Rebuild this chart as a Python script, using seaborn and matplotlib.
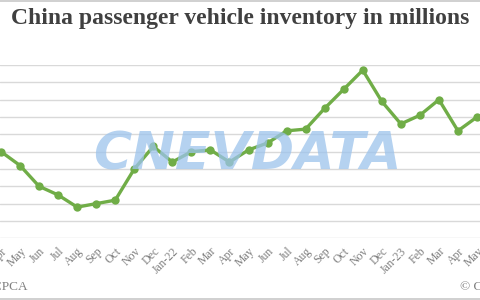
import matplotlib
matplotlib.use("Agg")
import matplotlib.pyplot as plt
import matplotlib.lines as mlines
import pandas as pd
import seaborn as sns

# Monthly inventory, Apr-21 .. May-23 (millions)
months = ["Apr", "May", "Jun", "Jul", "Aug", "Sep", "Oct", "Nov", "Dec",
          "Jan-22", "Feb", "Mar", "Apr", "May", "Jun", "Jul", "Aug", "Sep",
          "Oct", "Nov", "Dec", "Jan-23", "Feb", "Mar", "Apr", "May"]
inventory = [3.00, 2.92, 2.80, 2.75, 2.68, 2.70, 2.72, 2.90, 3.03,
             2.94, 3.00, 3.01, 2.94, 3.01, 3.05, 3.12, 3.13, 3.25,
             3.36, 3.47, 3.29, 3.16, 3.21, 3.30, 3.12, 3.20]
grid_values = [2.5, 2.6, 2.7, 2.8, 2.9, 3.0, 3.1, 3.2, 3.3, 3.4, 3.5]

df = pd.DataFrame({"idx": range(len(months)), "month": months, "value": inventory})

sns.set_theme(style="white")
plt.rcParams["font.family"] = ["Liberation Serif", "DejaVu Serif"]

fig = plt.figure(figsize=(4.8, 3.0), dpi=100)
ax = fig.add_axes([0.0, 1 - 238.3 / 300, 1.0, (238.3 - 65) / 300])

for g in grid_values:
    ax.axhline(g, color="#d9d9d9", lw=1.0, zorder=0)

sns.lineplot(data=df, x="idx", y="value", ax=ax, color="#70ad47", lw=2.4,
             marker="o", markersize=6, markeredgewidth=0, zorder=3, clip_on=False)

ax.set_xlim(-0.0525, 25.158)
ax.set_ylim(grid_values[0], grid_values[-1])
ax.set_xticks(df["idx"])
ax.set_xticklabels(months, rotation=45, ha="right", rotation_mode="anchor",
                   fontsize=8.5, color="#7f7f7f")
ax.tick_params(axis="x", length=0, pad=5)
ax.set_yticks([])
ax.set_xlabel("")
ax.set_ylabel("")
for s in ax.spines.values():
    s.set_visible(False)

# watermark
ax.text(0.515, 0.48, "CNEVDATA", transform=ax.transAxes, ha="center", va="center",
        fontsize=37.5, fontweight="bold", style="italic", family="DejaVu Sans",
        color="#9cc3ec", alpha=0.75, zorder=4)

fig.text(0.5, 0.938, "China passenger vehicle inventory in millions", ha="center",
         va="center", fontsize=17, fontweight="bold", color="#404040")
fig.text(28 / 480, 0.022, "Source: CPCA", ha="right", va="bottom", fontsize=9.5,
         color="#808080")
fig.text(460 / 480, 0.022, "© CnEVPost", ha="left", va="bottom", fontsize=9.5,
         color="#808080")

# thin frame lines top and bottom
fig.add_artist(mlines.Line2D([0, 1], [0.997, 0.997], color="#c8c8c8", lw=1.2))
fig.add_artist(mlines.Line2D([0, 1], [0.003, 0.003], color="#c8c8c8", lw=1.2))

fig.savefig("out.png", dpi=100, facecolor="white")
